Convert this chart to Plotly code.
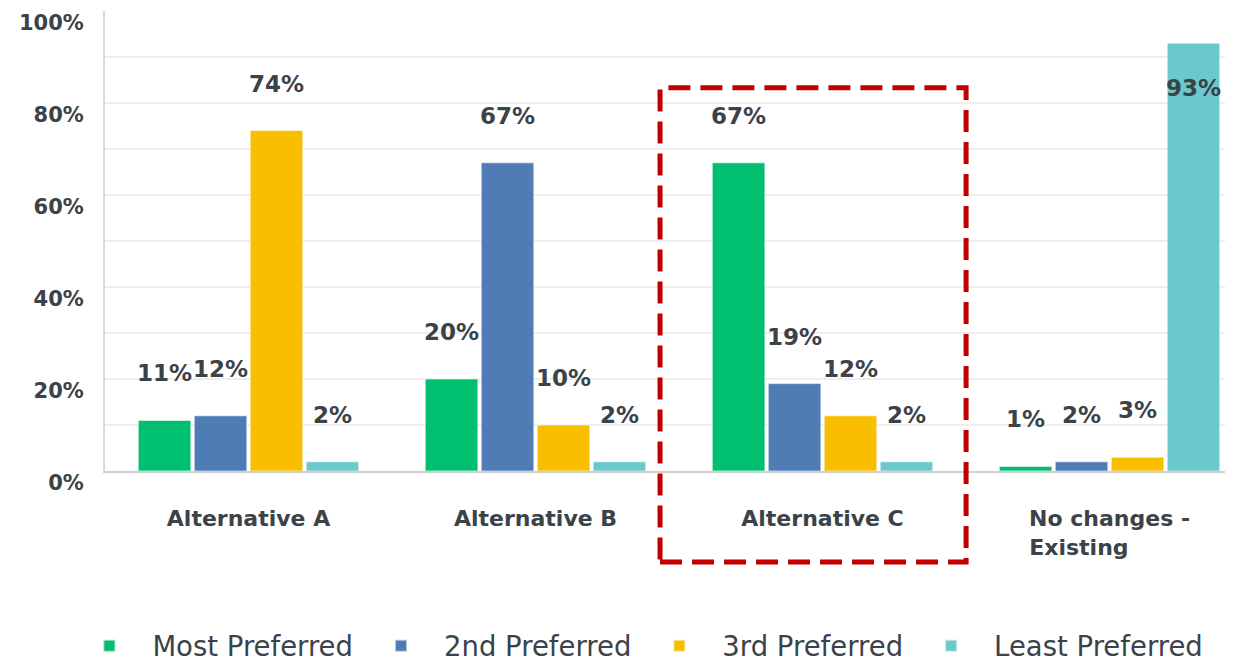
import plotly.graph_objects as go

categories = ["Alternative A", "Alternative B", "Alternative C",
              "No changes -<br>Existing\u00a0\u00a0\u00a0\u00a0\u00a0\u00a0\u00a0\u00a0"]
series = ["Most Preferred", "2nd Preferred", "3rd Preferred", "Least Preferred"]
values = [
    [11, 20, 67, 1],
    [12, 67, 19, 2],
    [74, 10, 12, 3],
    [2, 2, 2, 93],
]
colors = ["#00bf6f", "#507cb6", "#f9be00", "#6bc8cd"]
y_ticks = [0, 20, 40, 60, 80, 100]

font_family = "DejaVu Sans"
text_color = "#3b4248"
bargap = 0.22
slot = (1 - bargap) / len(series)

fig = go.Figure()
annotations = []
for j, name in enumerate(series):
    fig.add_trace(go.Bar(
        name=name,
        x=list(range(len(categories))),
        y=values[j],
        marker=dict(color=colors[j], line=dict(color="rgba(255,255,255,0.6)", width=1)),
        hoverinfo="skip",
    ))
    for i, v in enumerate(values[j]):
        # labels sit well above the bar, or inside when near the top
        annotations.append(dict(
            x=i + (j - 1.5) * slot, y=v, xref="x", yref="y",
            text="%d%%" % v, showarrow=False,
            yanchor="middle", yshift=-45 if v > 85 else 47,
            font=dict(family=font_family, size=23, color=text_color, weight="bold"),
        ))

# page body adds an 8px offset, margins compensate for it
fig.update_layout(
    width=1233, height=662,
    barmode="group", bargap=bargap, bargroupgap=0.06,
    plot_bgcolor="white", paper_bgcolor="white",
    margin=dict(l=97, r=0, t=3, b=199, autoexpand=False),
    annotations=annotations,
    showlegend=True,
    legend=dict(
        orientation="h", x=-0.034, xanchor="left", y=-0.38, yanchor="middle",
        font=dict(family=font_family, size=27.5, color=text_color),
        itemsizing="constant", traceorder="normal", itemwidth=76,
    ),
    shapes=[dict(
        type="rect", xref="paper", yref="paper",
        x0=0.4886, x1=0.758, y0=-0.198, y1=0.833,
        line=dict(color="#c00000", width=5, dash="22px,10px"),
    )],
)

fig.update_xaxes(
    range=[-0.5, 3.458], automargin=False,
    tickmode="array", tickvals=list(range(len(categories))), ticktext=categories,
    tickfont=dict(family=font_family, size=22, color=text_color, weight="bold"),
    ticks="", ticklabelstandoff=27,
    showline=True, linecolor="#d0d0d0", linewidth=2,
    showgrid=False, zeroline=False,
)
fig.update_yaxes(
    range=[0, 100], automargin=False,
    tickmode="array", tickvals=y_ticks, ticktext=["%d%%" % t for t in y_ticks],
    tickfont=dict(family=font_family, size=21, color=text_color, weight="bold"),
    ticks="", ticklabelstandoff=15, ticklabelshift=12,
    showline=True, linecolor="#d9d9d9", linewidth=2,
    showgrid=True, gridcolor="#eeeeee", gridwidth=1.5,
    minor=dict(tickmode="linear", tick0=0, dtick=10, showgrid=True, gridcolor="#eeeeee", gridwidth=1.5),
    zeroline=False,
)

fig.write_html("out.html")
